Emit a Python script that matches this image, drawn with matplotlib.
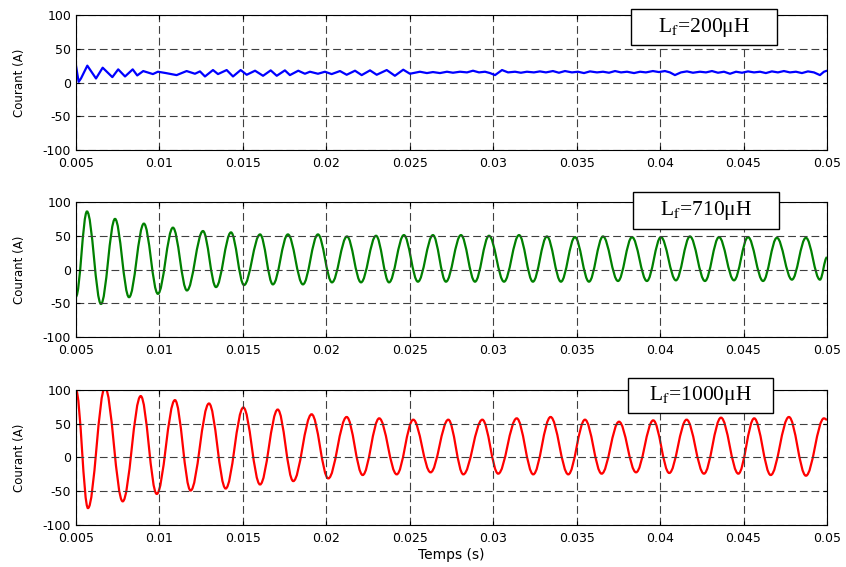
import matplotlib
matplotlib.use("Agg")
import matplotlib.pyplot as plt
from matplotlib.path import Path
from matplotlib.patches import PathPatch, Rectangle
from matplotlib.ticker import FormatStrFormatter

plt.rcParams["mathtext.fontset"] = "stix"
plt.rcParams["axes.unicode_minus"] = False

# Courant pour Lf = 200 uH (echantillons)
blue_t = [0.00500, 0.00516, 0.00530, 0.00568, 0.00620, 0.00660, 0.00718, 0.00753, 0.00794,
          0.00840, 0.00867, 0.00903, 0.00961, 0.00991, 0.01039, 0.01103, 0.01163, 0.01213,
          0.01243, 0.01273, 0.01321, 0.01351, 0.01403, 0.01441, 0.01487, 0.01523, 0.01573,
          0.01621, 0.01667, 0.01703, 0.01752, 0.01782, 0.01832, 0.01872, 0.01902, 0.01950,
          0.01992, 0.02032, 0.02082, 0.02122, 0.02172, 0.02212, 0.02262, 0.02302, 0.02362,
          0.02411, 0.02461, 0.02501, 0.02561, 0.02603, 0.02639, 0.02681, 0.02723, 0.02759,
          0.02801, 0.02843, 0.02879, 0.02915, 0.02951, 0.02981, 0.03011, 0.03053, 0.03089,
          0.03131, 0.03166, 0.03202, 0.03244, 0.03280, 0.03316, 0.03358, 0.03394, 0.03430,
          0.03472, 0.03508, 0.03544, 0.03580, 0.03622, 0.03658, 0.03694, 0.03730, 0.03766,
          0.03802, 0.03844, 0.03880, 0.03915, 0.03957, 0.03993, 0.04029, 0.04059, 0.04089,
          0.04125, 0.04161, 0.04197, 0.04239, 0.04275, 0.04311, 0.04347, 0.04383, 0.04419,
          0.04455, 0.04491, 0.04527, 0.04563, 0.04599, 0.04634, 0.04670, 0.04706, 0.04742,
          0.04778, 0.04814, 0.04850, 0.04886, 0.04922, 0.04958, 0.04982, 0.05000]
blue_i = [25, 1, 6, 25, 6, 22, 8, 19.5, 9,
          19.5, 10.5, 17, 12.5, 16, 14, 11, 17, 13,
          16.5, 9, 18.5, 12.5, 18.5, 9, 18.5, 11.5, 17.5,
          10, 18, 10, 18, 11, 17.5, 13, 16, 13,
          16, 12.5, 17, 11.5, 17.5, 11, 18, 11.5, 18.5,
          10, 19, 13, 16, 14, 15.5, 14, 16, 14.5,
          16, 15, 17.5, 15, 16, 14, 11, 18.5, 15,
          16, 14.5, 16, 15, 16.5, 15, 17, 14.5, 17,
          15, 16, 14, 16.5, 15, 16, 14.5, 17, 15,
          16, 14, 16, 15, 17, 15.5, 17, 15, 11,
          15, 16.5, 14.5, 16, 15, 17, 14.5, 16, 13,
          16, 14.5, 16.5, 15, 16, 14, 16.5, 15, 17,
          15, 16, 14, 16.5, 15, 11, 16, 17.5]

# Lf = 710 uH : extrema (pics / creux)
green_t = [0.00500, 0.00566, 0.00650, 0.00734, 0.00818, 0.00907, 0.00991, 0.01081, 0.01165,
           0.01261, 0.01339, 0.01429, 0.01507, 0.01603, 0.01680, 0.01770, 0.01860, 0.01950,
           0.02034, 0.02124, 0.02208, 0.02298, 0.02376, 0.02465, 0.02549, 0.02639, 0.02717,
           0.02807, 0.02891, 0.02975, 0.03065, 0.03155, 0.03238, 0.03322, 0.03406, 0.03490,
           0.03574, 0.03658, 0.03748, 0.03832, 0.03921, 0.04005, 0.04095, 0.04179, 0.04269,
           0.04353, 0.04443, 0.04527, 0.04617, 0.04700, 0.04790, 0.04874, 0.04958, 0.05000]
green_i = [-40, 86, -51, 75, -41, 68, -36, 62, -31,
           57, -26, 55, -23, 52, -22, 52, -22, 52,
           -19, 49, -19, 50, -19, 51, -18, 51, -18,
           51, -18, 50, -18, 51, -18, 49, -18, 48,
           -18, 49, -17, 48, -17, 48, -16, 49, -17,
           48, -16, 48, -17, 47, -15, 47, -15, 18]

# Lf = 1000 uH : extrema
red_t = [0.00500, 0.00572, 0.00674, 0.00780, 0.00888, 0.00984, 0.01093, 0.01187, 0.01297,
         0.01397, 0.01503, 0.01603, 0.01709, 0.01802, 0.01912, 0.02012, 0.02122, 0.02218,
         0.02317, 0.02422, 0.02521, 0.02625, 0.02731, 0.02821, 0.02935, 0.03030, 0.03141,
         0.03240, 0.03344, 0.03450, 0.03550, 0.03650, 0.03754, 0.03856, 0.03959, 0.04055,
         0.04159, 0.04263, 0.04365, 0.04469, 0.04564, 0.04663, 0.04772, 0.04874, 0.04982,
         0.05000]
red_i = [100, -75, 104, -65, 91, -54, 85, -49, 80,
         -46, 74, -40, 71, -35, 64, -31, 60, -26,
         58, -25, 56, -22, 56, -25, 56, -24, 58,
         -25, 60, -25, 56, -24, 53, -22, 55, -23,
         56, -24, 59, -24, 58, -26, 60, -27, 58,
         56]

labels = ["200", "710", "1000"]
x_ticks = [0.005, 0.01, 0.015, 0.02, 0.025, 0.03, 0.035, 0.04, 0.045, 0.05]
y_ticks = [-100, -50, 0, 50, 100]


def smooth_path(t, v):
    """Courbe de Bezier passant par les extrema (tangente horizontale)."""
    verts = [(t[0], v[0])]
    codes = [Path.MOVETO]
    for k in range(1, len(t)):
        d = t[k] - t[k - 1]
        verts += [(t[k - 1] + 0.3634 * d, v[k - 1]), (t[k] - 0.3634 * d, v[k]), (t[k], v[k])]
        codes += [Path.CURVE4] * 3
    return Path(verts, codes)


fig = plt.figure(figsize=(8.46, 5.67), dpi=100)
left, width, height = 0.0898, 0.8877, 0.2381
bottoms = [0.7354, 0.4056, 0.0741]
boxes = [(0.739, 0.778, 0.194, 0.267, 0.836, 0.907),
         (0.742, 0.799, 0.194, 0.276, 0.839, 0.937),
         (0.735, 0.830, 0.193, 0.259, 0.832, 0.959)]

axes = []
for i in range(3):
    ax = fig.add_axes([left, bottoms[i], width, height])
    if i == 0:
        ax.plot(blue_t, blue_i, color="#0000ff", lw=1.6)
    elif i == 1:
        ax.add_patch(PathPatch(smooth_path(green_t, green_i), fc="none", ec="#008000", lw=1.6))
    else:
        ax.add_patch(PathPatch(smooth_path(red_t, red_i), fc="none", ec="#ff0000", lw=1.6))
    ax.set_xlim(0.005, 0.05)
    ax.set_ylim(-100, 100)
    ax.set_xticks(x_ticks)
    ax.set_yticks(y_ticks)
    ax.xaxis.set_major_formatter(FormatStrFormatter("%g"))
    ax.tick_params(direction="in", top=True, right=True, length=3, width=0.8,
                   labelsize=9)
    ax.tick_params(axis="x", pad=5)
    ax.tick_params(axis="y", pad=3.5)
    ax.grid(True, color="0.25", lw=0.8, linestyle=(0, (7, 3.5)))
    for s in ax.spines.values():
        s.set_linewidth(0.8)
    ax.set_ylabel("Courant (A)", fontsize=8.5)
    ax.yaxis.set_label_coords(-0.066, 0.5)

    bx, by, bw, bh, tx, ty = boxes[i]
    ax.add_patch(Rectangle((bx, by), bw, bh, transform=ax.transAxes, fc="white",
                           ec="black", lw=1, clip_on=False, zorder=5))
    ax.text(tx, ty, "L$_{\\mathrm{f}}$=" + labels[i] + "μH", transform=ax.transAxes,
            ha="center", va="center", fontsize=15.5, family="Liberation Serif", zorder=6)
    axes.append(ax)

axes[2].set_xlabel("Temps (s)", fontsize=10)
axes[2].xaxis.set_label_coords(0.5, -0.17)

fig.savefig("out.png", dpi=100)
